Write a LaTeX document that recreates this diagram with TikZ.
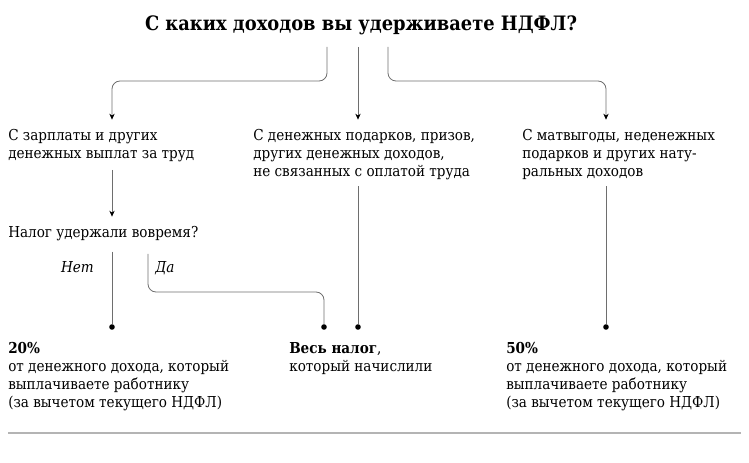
\documentclass[tikz,border=0pt]{standalone}
\usepackage{fontspec}
\setmainfont{DejaVu Serif Condensed}
\usepackage{tikz}
\usetikzlibrary{arrows.meta}

\definecolor{linegray}{HTML}{6E6E6E}
\definecolor{rulegray}{HTML}{B4B4B4}
\tikzset{
  ttl/.style = {font=\fontsize{14.9}{17}\selectfont\bfseries},
  txt/.style = {anchor=north west, inner sep=0pt, align=left, font=\fontsize{11.3}{13.4}\selectfont},
  lbl/.style = {anchor=north west, inner sep=0pt, font=\fontsize{11.3}{13.4}\selectfont\itshape},
  ln/.style = {draw=linegray, line width=0.6pt, rounded corners=6pt},
  arr/.style = {ln, -{Stealth[length=4.5pt,width=4pt,black]}},
  dot/.style = {circle, fill=black, inner sep=0pt, minimum size=4.2pt},
}

\begin{document}
\begin{tikzpicture}[x=0.75pt,y=-0.75pt]
  \useasboundingbox (0,0) rectangle (749,463);
%% question and the three kinds of income
  \node[ttl] (q) at (361,25) {С каких доходов вы удерживаете НДФЛ?};
  \node[txt] (sal) at (8,129) {С зарплаты и других\\денежных выплат за труд};
  \node[txt] (gift) at (253,129) {С денежных подарков, призов,\\других денежных доходов,\\не связанных с оплатой труда};
  \node[txt] (nat) at (522,129) {С матвыгоды, неденежных\\подарков и других нату-\\ральных доходов};
  \node[txt] (late) at (8,226) {Налог удержали вовремя?};
  \node[lbl, anchor=north east] (no) at (94,261) {Нет};
  \node[lbl] (yes) at (155,261) {Да};
%% end points
  \node[dot] (d1) at (112,327) {};
  \node[dot] (d2) at (324,327) {};
  \node[dot] (d3) at (358,327) {};
  \node[dot] (d4) at (606,327) {};
%% results
  \node[txt] (r20) at (8,342) {\textbf{20\%}\\от денежного дохода, который\\выплачиваете работнику\\(за вычетом текущего НДФЛ)};
  \node[txt] (rall) at (289,342) {\textbf{Весь налог},\\который начислили};
  \node[txt] (r50) at (506,342) {\textbf{50\%}\\от денежного дохода, который\\выплачиваете работнику\\(за вычетом текущего НДФЛ)};
%% connectors
  \coordinate (s1) at (327,47);
  \coordinate (s2) at (358,47);
  \coordinate (s3) at (388,47);
  \coordinate (fork) at (358,81);
  \coordinate (y0) at (148,254);
  \coordinate (yb) at (236,292);
  \draw[arr, shorten >=7pt] (s1) |- (fork -| d1) -- (sal.north -| d1);
  \draw[arr, shorten >=7pt] (s2) -- (gift.north -| d3);
  \draw[arr, shorten >=7pt] (s3) |- (fork -| d4) -- (nat.north -| d4);
  \draw[arr, shorten <=6pt, shorten >=7pt] (sal.south -| d1) -- (late.north -| d1);
  \draw[ln, shorten <=8pt] (late.south -| d1) -- (d1);
  \draw[ln] (y0) |- (yb) -| (d2);
  \draw[ln, shorten <=5pt] (gift.south -| d3) -- (d3);
  \draw[ln, shorten <=5pt] (nat.south -| d4) -- (d4);
  \draw[draw=rulegray, line width=1.2pt] (8,433) -- (741,433);
\end{tikzpicture}
\end{document}
